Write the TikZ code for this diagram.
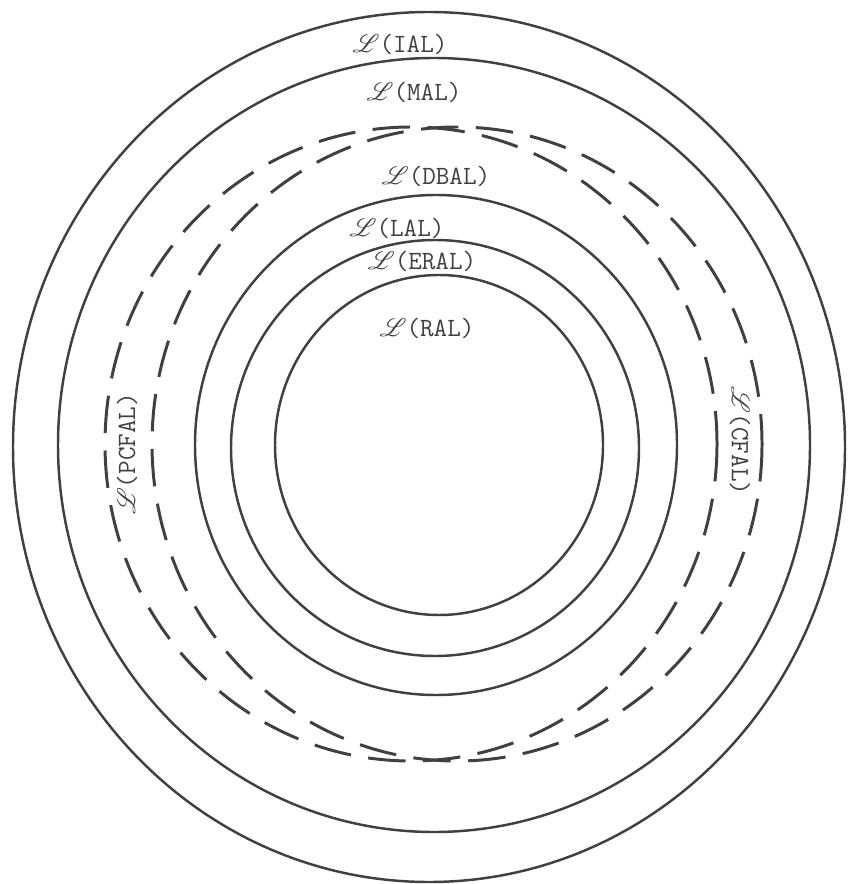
\documentclass[tikz,border=0pt]{standalone}
\usepackage{mathrsfs}
\usetikzlibrary{positioning}

\begin{document}
\begin{tikzpicture}[x=0.02cm, y=-0.02cm,
  ring/.style={draw=black!75, line width=1.4pt},
  dring/.style={draw=black!75, line width=1.7pt, dash pattern=on 0.75cm off 0.35cm},
  lab/.style={font=\fontsize{15}{18}\selectfont\ttfamily, text=black!75, inner sep=0pt}
]
\useasboundingbox (0,0) rectangle (848,884);

% Solid rings, outside in
\draw[ring] (429,447) ellipse [x radius=416, y radius=435];
\draw[ring] (434,445) ellipse [x radius=376, y radius=387];
\draw[ring] (436,445) ellipse [x radius=241, y radius=250];
\draw[ring] (435,448) ellipse [x radius=204, y radius=208];
\draw[ring] (439,445) ellipse [x radius=164, y radius=170];

% Dashed rings
\draw[dring] (411,444) ellipse [x radius=306, y radius=317];
\draw[dring] (457,444) ellipse [x radius=305, y radius=317];

% Labels
\node[lab] (ial)  at (400,44)  {$\mathscr{L}$(IAL)};
\node[lab] (mal)  at (414,92)  {$\mathscr{L}$(MAL)};
\node[lab] (dbal) at (436,176) {$\mathscr{L}$(DBAL)};
\node[lab] (lal)  at (397,228) {$\mathscr{L}$(LAL)};
\node[lab] (eral) at (422,261) {$\mathscr{L}$(ERAL)};
\node[lab] (ral)  at (427,328) {$\mathscr{L}$(RAL)};
\node[lab, rotate=90]  (pcfal) at (127,454) {$\mathscr{L}$(PCFAL)};
\node[lab, rotate=-90] (cfal)  at (740,441) {$\mathscr{L}$(CFAL)};
\end{tikzpicture}
\end{document}
